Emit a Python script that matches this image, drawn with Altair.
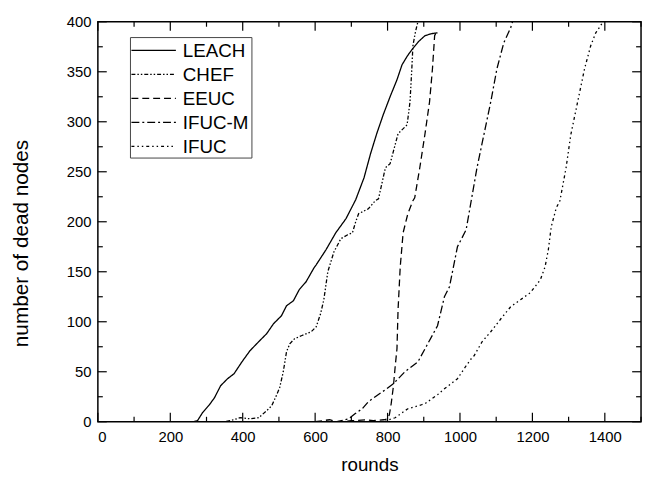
import altair as alt
import pandas as pd

# ---------------- data ----------------
series_order = ["LEACH", "CHEF", "EEUC", "IFUC-M", "IFUC"]

leach_rounds = [0, 262, 275, 289, 308, 322, 339, 358, 376, 398, 420, 444, 466, 485, 507, 521, 540,
                556, 575, 597, 603, 630, 657, 685, 712, 735, 753, 770, 788, 808, 826, 840, 855,
                867, 885, 903, 920, 938]
leach_nodes = [0, 0, 1, 9, 17, 24, 36, 43, 48, 60, 71, 80, 88, 98, 106, 116, 121,
               132, 140, 154, 157, 172, 189, 203, 222, 244, 268, 288, 307, 326, 342, 357, 366,
               372, 380, 386, 388, 389]

chef_rounds = [0, 350, 365, 393, 420, 444, 466, 480, 494, 502, 512, 521, 530, 543, 562, 589, 603,
               615, 624, 635, 652, 671, 690, 703, 712, 720, 747, 766, 775, 794, 807, 829, 854,
               862, 867, 870, 876, 881, 884]
chef_nodes = [0, 0, 1, 4, 3, 4, 11, 16, 27, 34, 50, 70, 78, 83, 86, 90, 95,
              108, 122, 150, 170, 183, 187, 189, 200, 208, 213, 221, 223, 254, 258, 288, 297,
              320, 353, 376, 388, 396, 400]

eeuc_rounds = [0, 600, 640, 660, 700, 740, 760, 790, 800, 805, 810, 816, 821, 826, 829, 835, 843,
               856, 870, 875, 889, 903, 916, 924, 930, 935]
eeuc_nodes = [0, 0, 2, 0, 1, 2, 1, 2, 3, 7, 18, 35, 55, 73, 112, 155, 189,
              208, 221, 224, 254, 287, 320, 353, 386, 390]

ifucm_rounds = [0, 660, 693, 710, 730, 747, 766, 794, 816, 848, 884, 908, 938, 957, 971, 993,
                1017, 1031, 1047, 1066, 1085, 1102, 1121, 1140, 1145]
ifucm_nodes = [0, 0, 3, 8, 13, 20, 25, 32, 38, 50, 60, 76, 96, 125, 135, 175,
               192, 221, 254, 287, 320, 353, 379, 394, 400]

ifuc_rounds = [0, 790, 812, 821, 848, 856, 894, 903, 938, 957, 993, 1017, 1031, 1039, 1061, 1085,
               1113, 1140, 1167, 1194, 1222, 1235, 1244, 1252, 1266, 1276, 1293, 1306, 1325,
               1344, 1361, 1375, 1388, 1395]
ifuc_nodes = [0, 0, 3, 4, 11, 13, 17, 18, 27, 33, 43, 56, 63, 66, 80, 90,
              103, 115, 122, 129, 142, 155, 172, 195, 214, 221, 254, 287, 320,
              353, 376, 389, 396, 400]

x_major = [0, 200, 400, 600, 800, 1000, 1200, 1400]
x_minor = [100, 300, 500, 700, 900, 1100, 1300, 1500]
y_major = [0, 50, 100, 150, 200, 250, 300, 350, 400]
y_minor = [25, 75, 125, 175, 225, 275, 325, 375]

dash_patterns = [[1, 0], [4, 2, 1.5, 2, 1.5, 2], [7, 4], [8, 3, 2, 3], [3, 3, 1.5, 3, 1.5, 3]]

# ---------------- build table ----------------
rows = []
for name, xs, ys in [("LEACH", leach_rounds, leach_nodes), ("CHEF", chef_rounds, chef_nodes),
                     ("EEUC", eeuc_rounds, eeuc_nodes), ("IFUC-M", ifucm_rounds, ifucm_nodes),
                     ("IFUC", ifuc_rounds, ifuc_nodes)]:
    for x, y in zip(xs, ys):
        rows.append({"series": name, "rounds": x, "nodes": y})
df = pd.DataFrame(rows)

FONT = "Liberation Sans"
W, H = 550, 405
xscale = alt.Scale(domain=[0, 1500], nice=False, zero=False)
yscale = alt.Scale(domain=[0, 400], nice=False, zero=False)

lines = alt.Chart(df).mark_line(color="black", strokeWidth=1.3, clip=True).encode(
    x=alt.X("rounds:Q", scale=xscale,
            axis=alt.Axis(values=x_major, format="d", labelFontSize=15, labelFont=FONT,
                          labelColor="black", labelPadding=8, title="rounds", titleFontSize=19,
                          titleFont=FONT, titleFontWeight="normal", titleColor="black",
                          titlePadding=11)),
    y=alt.Y("nodes:Q", scale=yscale,
            axis=alt.Axis(values=y_major, format="d", labelFontSize=15, labelFont=FONT,
                          labelColor="black", labelPadding=7, title="number of dead nodes",
                          titleFontSize=21, titleFont=FONT, titleFontWeight="normal",
                          titleColor="black", titleX=-77, titleY=224, titleAngle=270,
                          titleBaseline="middle", titleAlign="center")),
    strokeDash=alt.StrokeDash("series:N", legend=None,
                              scale=alt.Scale(domain=series_order, range=dash_patterns)),
    order=alt.Order("rounds:Q"),
)

def xticks(vals, length, top):
    d = pd.DataFrame({"rounds": vals})
    if top:
        yy, yy2 = alt.value(0), alt.value(length)
    else:
        yy, yy2 = alt.value(H), alt.value(H - length)
    return alt.Chart(d).mark_rule(color="black", strokeWidth=1.2).encode(
        x=alt.X("rounds:Q", scale=xscale), y=yy, y2=yy2)

def yticks(vals, length, right):
    d = pd.DataFrame({"nodes": vals})
    if right:
        xx, xx2 = alt.value(W), alt.value(W - length)
    else:
        xx, xx2 = alt.value(0), alt.value(length)
    return alt.Chart(d).mark_rule(color="black", strokeWidth=1.2).encode(
        y=alt.Y("nodes:Q", scale=yscale), x=xx, x2=xx2)

tick_layers = [
    xticks(x_major, 9, False), xticks(x_minor, 5, False),
    xticks(x_major, 9, True), xticks(x_minor, 5, True),
    yticks(y_major, 9, False), yticks(y_minor, 5, False),
    yticks(y_major, 9, True), yticks(y_minor, 5, True),
]

# ---------------- legend (drawn by hand) ----------------
LX0, LX1, LY0, LY1 = 33, 156, 16, 138
legend_box = alt.Chart(pd.DataFrame({"k": [0]})).mark_rect(
    fill="white", stroke="#444", strokeWidth=1).encode(
    x=alt.value(LX0), x2=alt.value(LX1), y=alt.value(LY0), y2=alt.value(LY1))

legend_layers = [legend_box]
for i, (name, dash) in enumerate(zip(series_order, dash_patterns)):
    yy = 29 + i * 24.3
    ld = pd.DataFrame({"series": [name]})
    legend_layers.append(
        alt.Chart(ld).mark_rule(color="black", strokeWidth=1.2, strokeDash=dash).encode(
            x=alt.value(LX0 + 1), x2=alt.value(LX0 + 46), y=alt.value(yy)))
    legend_layers.append(
        alt.Chart(ld).mark_text(font=FONT, fontSize=19, align="left", baseline="middle",
                                color="black").encode(
            x=alt.value(LX0 + 53), y=alt.value(yy + 1), text="series:N"))

chart = alt.layer(lines, *tick_layers, *legend_layers).properties(
    width=W, height=H,
    autosize=alt.AutoSizeParams(type="none"),
    padding={"left": 91, "top": 11, "right": 3, "bottom": 53},
    background="white",
).configure_view(stroke="black", strokeWidth=1.5).configure_axis(
    grid=False, ticks=False, tickSize=0, domain=False)

chart.save("out.html", embed_options={"renderer": "svg", "actions": False})
